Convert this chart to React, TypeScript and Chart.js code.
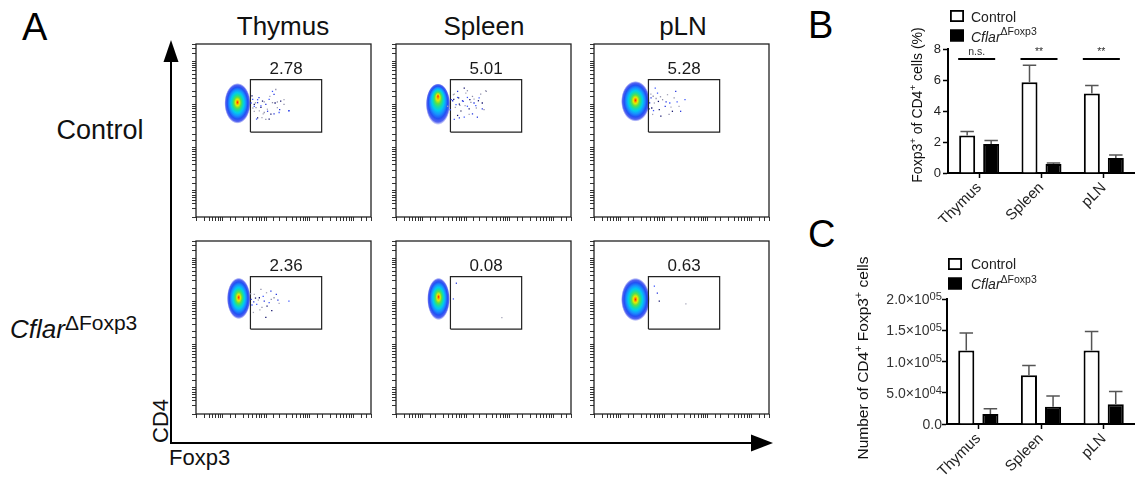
import React, { useEffect, useRef } from 'react';
import { Chart, registerables } from 'chart.js';
Chart.register(...registerables);

const FONT = '"Liberation Sans", Arial, Helvetica, sans-serif';

// ---------------- Panel A (flow plots) ----------------
const tissues = ['Thymus', 'Spleen', 'pLN'];
const gateLabels = ['2.78', '5.01', '5.28', '2.36', '0.08', '0.63'];
// gate rectangle in % of the plot range
const gateX = [31.1, 71.8];
const gateY = [49.1, 79.4];

// density clouds: [centre x %, centre y %, width %, height %, vertical shift of the densest point (fraction of radius)]
const thymusCtlBlobs = [[23.7, 65.7, 15, 23.5, -0.05]];
const spleenCtlBlobs = [[24, 65.2, 14, 24, -0.4]];
const plnCtlBlobs = [[23.7, 66.9, 16.5, 23.5, -0.05]];
const thymusKoBlobs = [[24.4, 66.8, 13.5, 24, -0.05]];
const spleenKoBlobs = [[24.3, 66.5, 13, 24.5, -0.1]];
const plnKoBlobs = [[23.7, 66.2, 16.5, 25, 0]];

// sparse events to the right of the main cloud: [x %, y %]
const thymusCtlTail = [[31.4, 65.9], [33.3, 61.1], [35.2, 67.8], [37.1, 63.4], [39, 66.5], [40.9, 61.1], [42.2, 69.7], [43.7, 72.6], [45.2, 65.9], [46.5, 66.5], [47.8, 62.1], [50.3, 67.8], [53.1, 61.5], [35.2, 57.3], [39.9, 56.4], [44.6, 59.6], [38.4, 59.6], [33.3, 64], [32, 70], [34, 66], [36, 69], [32.5, 63],
  [32.4, 68], [33.3, 65.1], [34.3, 63.2], [35.2, 66.1], [36.2, 61.3], [37.1, 64.2], [38, 67], [39, 60.4], [39.9, 65.1], [40.8, 62.3], [41.8, 68], [42.8, 59.4], [43.7, 66.1], [44.6, 70.9], [46.5, 63.2], [47.5, 60.4], [48.4, 67], [50.3, 65.1], [53.1, 61.3], [37.7, 57.5], [34.6, 56.6], [41.8, 56.6], [45.6, 73.7]];
const spleenCtlTail = [[31.5, 67.8], [32.8, 70.7], [34.3, 65], [35.8, 68.8], [37.1, 61.1], [38.4, 66.9], [39.9, 71.6], [40.8, 64], [42.2, 67.8], [43.7, 69.7], [44.6, 65.9], [45.9, 63], [47.5, 68.8], [49.3, 65.9], [51.6, 72.6], [36.2, 57.3], [41.8, 59.3], [33.3, 56.4], [39, 74.5], [50.3, 62.1], [35.2, 72.6], [29.5, 64], [31, 62], [33, 68], [36.5, 64.5],
  [32.4, 67.2], [33.9, 63.4], [35.2, 69.1], [36.2, 65.3], [37.1, 61.5], [38, 67.2], [39.5, 64.4], [40.8, 69.1], [41.8, 62.5], [42.8, 66.3], [43.7, 59.6], [44.6, 68.2], [45.6, 64.4], [47.1, 67.2], [48.4, 71], [49.3, 62.5], [51.2, 73], [39, 57.7], [35.2, 58.7], [40.8, 73], [46.5, 57.7], [33.3, 71]];
const plnCtlTail = [[32.6, 68.8], [34.5, 65.9], [36.3, 71.6], [37.3, 62.1], [39.2, 67.8], [40.7, 64], [42, 70.7], [43.3, 65.9], [44.8, 61.1], [45.8, 68.8], [46.7, 72.6], [48.6, 64], [52, 67.8], [38.2, 58.3], [42.9, 59.3], [49.5, 61.1], [33.5, 59.3], [35, 74.5], [33, 63], [35.5, 68.5],
  [31.8, 66], [32.5, 71], [34, 61.5], [36.8, 66.8], [38, 69.5], [41.2, 66.5], [44, 63.5], [47.5, 66.5], [31.5, 62.5], [33.8, 69.8]];
const thymusKoTail = [[31.5, 66.3], [33.3, 69.1], [34.7, 63.4], [36.2, 67.2], [37.7, 61.6], [39, 65.3], [40.3, 70.1], [41.8, 64.4], [43.3, 59.7], [44.6, 67.2], [45.9, 69.1], [47.5, 63.9], [53.1, 65.3], [39.9, 55.9], [37.1, 72], [42.8, 71], [32.8, 58.7], [32, 63], [34, 67],
  [31.2, 69.5], [33, 64.8], [35.6, 65.8], [38.4, 68], [40.6, 62.4], [43, 66.3], [46.8, 65.8], [36.5, 60.2]];
const spleenKoTail = [[34.5, 75.6], [60.5, 55.7], [32.8, 66.5]];
const plnKoTail = [[36.2, 69.9], [52.5, 63.6], [34.5, 73.9], [37.3, 65.3]];

const panelBlobs = [thymusCtlBlobs, spleenCtlBlobs, plnCtlBlobs, thymusKoBlobs, spleenKoBlobs, plnKoBlobs];
const panelTails = [thymusCtlTail, spleenCtlTail, plnCtlTail, thymusKoTail, spleenKoTail, plnKoTail];

// ---------------- Panels B and C (bar charts) ----------------
const barCategories = ['Thymus', 'Spleen', 'pLN'];
const seriesNames = ['Control', 'CflarΔFoxp3'];

const pctControl = [2.42, 5.86, 5.13];
const pctControlErr = [0.26, 1.09, 0.51];
const pctKo = [1.87, 0.58, 0.97];
const pctKoErr = [0.23, 0.06, 0.19];
const pctSigLabels = ['n.s.', '**', '**'];
const pctSigLevel = 7.35;
const pctMax = 8;
const pctStep = 2;

const numControl = [117600, 78000, 117600];
const numControlErr = [27900, 15600, 30400];
const numKo = [16000, 27800, 31600];
const numKoErr = [8600, 17100, 20300];
const numMax = 200000;
const numStep = 50000;

// ---------------- layout / style ----------------
const FLOW_LEFT = [196, 396, 594];
const FLOW_TOP = [42, 239];
const FLOW_W = 177;
const FLOW_H = 175;
const TAIL_COLORS = ['#2233dd', '#a4a4b8', '#3a55ff', '#10106a', '#8c8ca8'];
const BLOB_STOPS: [string, number][] = [
  ['#ff2000', 0], ['#ff8c00', 0.07], ['#e6ec00', 0.15], ['#5ae048', 0.27], ['#1adca0', 0.38],
  ['#00ccee', 0.5], ['#1890ff', 0.64], ['#2250f4', 0.78], ['rgba(30,50,235,0.75)', 0.9], ['rgba(30,50,235,0)', 1],
];

type Seg = { t: string; italic?: boolean; sup?: boolean };

function drawRich(ctx: CanvasRenderingContext2D, segs: Seg[], x: number, y: number, size: number,
  align: 'left' | 'center' | 'right', color: string, supScale = 0.7, supRise = 0.4) {
  const font = (s: Seg) => `${s.italic ? 'italic ' : ''}${s.sup ? size * supScale : size}px ${FONT}`;
  let total = 0;
  const widths = segs.map((s) => { ctx.font = font(s); const w = ctx.measureText(s.t).width; total += w; return w; });
  let cx = align === 'left' ? x : align === 'center' ? x - total / 2 : x - total;
  ctx.save();
  ctx.fillStyle = color;
  ctx.textAlign = 'left';
  ctx.textBaseline = 'alphabetic';
  segs.forEach((s, i) => {
    ctx.font = font(s);
    ctx.fillText(s.t, cx, s.sup ? y - size * supRise : y);
    cx += widths[i];
  });
  ctx.restore();
}

function drawBlob(ctx: CanvasRenderingContext2D, xs: any, ys: any, b: number[]) {
  const [cx, cy, w, h, shift] = b;
  const px = xs.getPixelForValue(cx);
  const py = ys.getPixelForValue(cy);
  const rx = Math.abs(xs.getPixelForValue(cx + w / 2) - px);
  const ry = Math.abs(ys.getPixelForValue(cy + h / 2) - py);
  ctx.save();
  ctx.translate(px, py);
  ctx.scale(1, ry / rx);
  const g = ctx.createRadialGradient(0, rx * shift, 0, 0, 0, rx);
  BLOB_STOPS.forEach(([c, t]) => g.addColorStop(t, c));
  ctx.fillStyle = g;
  ctx.beginPath();
  ctx.arc(0, 0, rx, 0, Math.PI * 2);
  ctx.fill();
  ctx.restore();
}

function FlowPlot({ idx }: { idx: number }) {
  const ref = useRef<HTMLCanvasElement>(null);
  const col = idx % 3;
  const row = Math.floor(idx / 3);
  const W = FLOW_W + 8 + 2;
  const H = FLOW_H + 2 + 8;
  useEffect(() => {
    const tail = panelTails[idx];
    const blobs = panelBlobs[idx];
    const fitX = (s: any) => { s.height = 8; s.paddingLeft = 0; s.paddingRight = 0; };
    const fitY = (s: any) => { s.width = 8; s.paddingTop = 0; s.paddingBottom = 0; };
    const logAxis = (axis: 'x' | 'y', position: string, fit: any) => ({
      type: 'logarithmic', axis, position, min: 2.5, max: 25119, offset: false,
      ticks: { display: false, autoSkip: false },
      grid: { drawOnChartArea: false, drawTicks: true, tickLength: 4, tickColor: '#333', tickWidth: 1 },
      border: { display: false },
      afterFit: fit,
    });
    const chart = new Chart(ref.current!, {
      type: 'scatter',
      data: {
        datasets: [
          {
            data: tail.map(([x, y]) => ({ x, y })),
            pointRadius: 0.9, pointStyle: 'rect', pointBorderWidth: 0,
            pointBackgroundColor: (c: any) => TAIL_COLORS[c.dataIndex % TAIL_COLORS.length],
          } as any,
          {
            data: [
              { x: gateX[0], y: gateY[0] }, { x: gateX[1], y: gateY[0] }, { x: gateX[1], y: gateY[1] },
              { x: gateX[0], y: gateY[1] }, { x: gateX[0], y: gateY[0] },
            ],
            showLine: true, borderColor: '#222', borderWidth: 1.2, pointRadius: 0, fill: false,
          } as any,
        ],
      },
      options: {
        responsive: false, animation: false, devicePixelRatio: 1, events: [],
        layout: { padding: { top: 2, right: 2, left: 0, bottom: 0 } },
        plugins: { legend: { display: false }, tooltip: { enabled: false } },
        scales: {
          x: { type: 'linear', min: 0, max: 100, display: false },
          y: { type: 'linear', min: 0, max: 100, display: false },
          lx: logAxis('x', 'bottom', fitX) as any,
          ly: logAxis('y', 'left', fitY) as any,
        },
      } as any,
      plugins: [{
        id: 'flowDecor',
        beforeDatasetsDraw(c: any) {
          const ctx = c.ctx;
          ctx.save();
          ctx.beginPath();
          ctx.rect(c.chartArea.left, c.chartArea.top, c.chartArea.width, c.chartArea.height);
          ctx.clip();
          blobs.forEach((b) => drawBlob(ctx, c.scales.x, c.scales.y, b));
          ctx.restore();
        },
        afterDraw(c: any) {
          const ctx = c.ctx;
          const a = c.chartArea;
          ctx.save();
          ctx.strokeStyle = '#222';
          ctx.lineWidth = 1.3;
          ctx.strokeRect(a.left, a.top, a.width, a.height);
          ctx.fillStyle = '#1a1a1a';
          ctx.font = `17px ${FONT}`;
          ctx.textAlign = 'center';
          ctx.textBaseline = 'alphabetic';
          ctx.fillText(gateLabels[idx], c.scales.x.getPixelForValue((gateX[0] + gateX[1]) / 2),
            c.scales.y.getPixelForValue(gateY[1]) - 6);
          ctx.restore();
        },
      }],
    });
    return () => chart.destroy();
  }, [idx]);
  return (
    <canvas ref={ref} width={W} height={H}
      style={{ position: 'absolute', left: FLOW_LEFT[col] - 8, top: FLOW_TOP[row] - 2, width: W, height: H }} />
  );
}

const legendLabels: Seg[][] = [
  [{ t: seriesNames[0] }],
  [{ t: 'Cflar', italic: true }, { t: 'ΔFoxp3', sup: true }],
];

type BarProps = {
  left: number; top: number; width: number; height: number;
  padTop: number; yWidth: number; xHeight: number;
  yMax: number; yStep: number;
  control: number[]; controlErr: number[]; ko: number[]; koErr: number[];
  title: Seg[]; titleX: number; titleY: number; titleSize: number;
  legendX: number; legendY: number[]; legendTextX: number; legendTextY: number[];
  sigLabels?: string[]; sigLevel?: number;
  sciTicks?: boolean;
};

function BarPanel(p: BarProps) {
  const ref = useRef<HTMLCanvasElement>(null);
  useEffect(() => {
    const errs = [p.controlErr, p.koErr];
    const chart = new Chart(ref.current!, {
      type: 'bar',
      data: {
        labels: barCategories,
        datasets: [
          { label: seriesNames[0], data: p.control, backgroundColor: '#ffffff', borderColor: '#000000', borderWidth: 2,
            categoryPercentage: 0.77, barPercentage: 0.667 },
          { label: seriesNames[1], data: p.ko, backgroundColor: '#000000', borderColor: '#000000', borderWidth: 2,
            categoryPercentage: 0.77, barPercentage: 0.667 },
        ],
      },
      options: {
        responsive: false, animation: false, devicePixelRatio: 1, events: [],
        layout: { padding: { top: p.padTop, right: 0, left: 0, bottom: 0 } },
        plugins: { legend: { display: false }, tooltip: { enabled: false } },
        scales: {
          x: {
            type: 'category', offset: true,
            grid: { offset: false, drawOnChartArea: false, drawTicks: true, tickLength: 5, tickColor: '#000', tickWidth: 1.5 },
            border: { display: true, color: '#000', width: 2 },
            ticks: { minRotation: 45, maxRotation: 45, autoSkip: false, font: { family: FONT, size: 15 }, color: '#222', padding: 1 },
            afterFit: (s: any) => { s.height = p.xHeight; s.paddingLeft = 0; s.paddingRight = 0; },
          },
          y: {
            min: 0, max: p.yMax,
            ticks: { stepSize: p.yStep, display: !p.sciTicks, font: { family: FONT, size: 13 }, color: '#222', padding: 2 },
            grid: { drawOnChartArea: false, drawTicks: true, tickLength: 5, tickColor: '#000', tickWidth: 1.5 },
            border: { display: true, color: '#000', width: 2 },
            afterFit: (s: any) => { s.width = p.yWidth; s.paddingTop = 0; s.paddingBottom = 0; },
          },
        },
      } as any,
      plugins: [{
        id: 'barDecor',
        afterDatasetsDraw(c: any) {
          const ctx = c.ctx;
          const ys = c.scales.y;
          // error bars (upper only)
          c.data.datasets.forEach((ds: any, i: number) => {
            const meta = c.getDatasetMeta(i);
            meta.data.forEach((bar: any, j: number) => {
              const topY = ys.getPixelForValue(ds.data[j] + errs[i][j]);
              const hw = bar.width * 0.42;
              ctx.save();
              ctx.strokeStyle = '#555';
              ctx.lineWidth = 1.5;
              ctx.beginPath();
              ctx.moveTo(bar.x, bar.y);
              ctx.lineTo(bar.x, topY);
              ctx.moveTo(bar.x - hw, topY);
              ctx.lineTo(bar.x + hw, topY);
              ctx.stroke();
              ctx.restore();
            });
          });
          // significance
          if (p.sigLabels && p.sigLevel !== undefined) {
            const m0 = c.getDatasetMeta(0);
            const m1 = c.getDatasetMeta(1);
            const py = ys.getPixelForValue(p.sigLevel);
            p.sigLabels.forEach((lbl, j) => {
              const b0 = m0.data[j];
              const b1 = m1.data[j];
              const x0 = b0.x - b0.width / 2 - 1;
              const x1 = b1.x + b1.width / 2 - 4;
              ctx.save();
              ctx.strokeStyle = '#000';
              ctx.lineWidth = 2;
              ctx.beginPath();
              ctx.moveTo(x0, py);
              ctx.lineTo(x1, py);
              ctx.stroke();
              ctx.fillStyle = '#333';
              ctx.font = `10.5px ${FONT}`;
              ctx.textAlign = 'center';
              ctx.fillText(lbl, (x0 + x1) / 2, py - 4);
              ctx.restore();
            });
          }
        },
        afterDraw(c: any) {
          const ctx = c.ctx;
          // y-axis title
          ctx.save();
          ctx.translate(p.titleX, p.titleY);
          ctx.rotate(-Math.PI / 2);
          drawRich(ctx, p.title, 0, 0, p.titleSize, 'center', '#111', 0.7, 0.4);
          ctx.restore();
          // legend
          c.data.datasets.forEach((ds: any, i: number) => {
            const y = p.legendY[i];
            ctx.save();
            ctx.fillStyle = ds.backgroundColor;
            ctx.fillRect(p.legendX, y, 14, 12);
            ctx.strokeStyle = ds.borderColor;
            ctx.lineWidth = 1.8;
            ctx.strokeRect(p.legendX + 0.9, y + 0.9, 12.2, 10.2);
            ctx.restore();
            drawRich(ctx, legendLabels[i], p.legendTextX, p.legendTextY[i], 14, 'left', '#222', 0.75, 0.43);
          });
          // scientific tick labels
          if (p.sciTicks) {
            const ys = c.scales.y;
            ys.ticks.forEach((t: any) => {
              const v = t.value;
              const py = ys.getPixelForValue(v);
              let segs: Seg[];
              if (v === 0) segs = [{ t: '0.0' }];
              else {
                const e = Math.floor(Math.log10(v) + 1e-9);
                const m = v / Math.pow(10, e);
                segs = [{ t: `${m.toFixed(1)}×10` }, { t: String(e).padStart(2, '0'), sup: true }];
              }
              drawRich(ctx, segs, c.chartArea.left - 5, py + 5, 14, 'right', '#333', 0.8, 0.3);
            });
          }
        },
      }],
    });
    return () => chart.destroy();
  }, []);
  return (
    <canvas ref={ref} width={p.width} height={p.height}
      style={{ position: 'absolute', left: p.left, top: p.top, width: p.width, height: p.height }} />
  );
}

const HEADER_X = [283, 484, 683];

export default function App() {
  return (
    <div style={{ position: 'absolute', left: 0, top: 0, width: 1135, height: 479, background: '#fff', overflow: 'hidden' }}>
      <svg width={1135} height={479} style={{ position: 'absolute', left: 0, top: 0 }} fontFamily={FONT}>
        <text x={22} y={40} fontSize={38} fill="#000">A</text>
        {tissues.map((t, i) => (
          <text key={t} x={HEADER_X[i]} y={35} fontSize={26} textAnchor="middle" fill="#111">{t}</text>
        ))}
        <text x={100} y={139} fontSize={27} textAnchor="middle" fill="#111">Control</text>
        <text x={10} y={338} fontSize={26} fill="#111">
          <tspan fontStyle="italic">Cflar</tspan>
          <tspan fontSize={21} dy={-8}>ΔFoxp3</tspan>
        </text>
        <text transform="rotate(-90 168 443)" x={168} y={443} fontSize={22} fill="#111">CD4</text>
        <text x={169} y={465} fontSize={22} fill="#111">Foxp3</text>
        <line x1={171} y1={444} x2={171} y2={58} stroke="#000" strokeWidth={2} />
        <polygon points="171,40 163.5,62 178.5,62" fill="#000" />
        <line x1={170} y1={443} x2={754} y2={443} stroke="#000" strokeWidth={2} />
        <polygon points="773,443 751,434.5 751,451.5" fill="#000" />
        <text x={808} y={38} fontSize={38} fill="#000">B</text>
        <text x={808} y={247} fontSize={38} fill="#000">C</text>
      </svg>
      {[0, 1, 2, 3, 4, 5].map((i) => <FlowPlot key={i} idx={i} />)}
      <BarPanel
        left={880} top={0} width={255} height={222}
        padTop={49} yWidth={68} xHeight={49}
        yMax={pctMax} yStep={pctStep}
        control={pctControl} controlErr={pctControlErr} ko={pctKo} koErr={pctKoErr}
        title={[{ t: 'Foxp3' }, { t: '+', sup: true }, { t: ' of CD4' }, { t: '+', sup: true }, { t: ' cells (%)' }]}
        titleX={42} titleY={105} titleSize={14}
        legendX={70} legendY={[10, 29.5]} legendTextX={91} legendTextY={[21.5, 41.5]}
        sigLabels={pctSigLabels} sigLevel={pctSigLevel}
      />
      <BarPanel
        left={840} top={222} width={295} height={257}
        padTop={77} yWidth={107} xHeight={55}
        yMax={numMax} yStep={numStep}
        control={numControl} controlErr={numControlErr} ko={numKo} koErr={numKoErr}
        title={[{ t: 'Number of CD4' }, { t: '+', sup: true }, { t: ' Foxp3' }, { t: '+', sup: true }, { t: ' cells' }]}
        titleX={28} titleY={136} titleSize={15.5}
        legendX={108} legendY={[36, 55.5]} legendTextX={131} legendTextY={[46.5, 67]}
        sciTicks
      />
    </div>
  );
}
